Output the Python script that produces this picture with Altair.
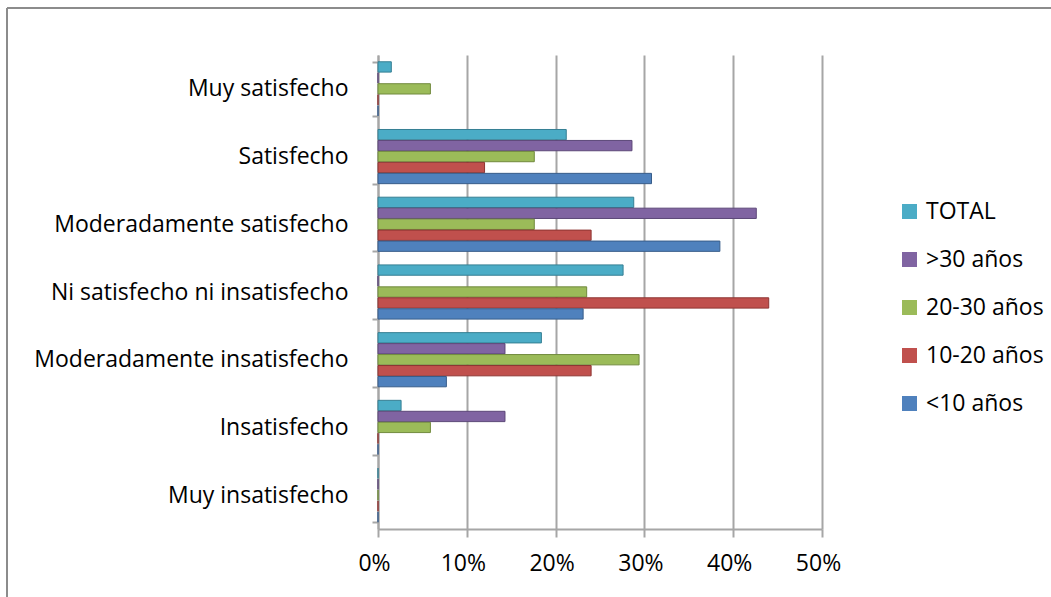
import altair as alt
import pandas as pd

categories = ["Muy satisfecho", "Satisfecho", "Moderadamente satisfecho",
              "Ni satisfecho ni insatisfecho", "Moderadamente insatisfecho",
              "Insatisfecho", "Muy insatisfecho"]
series = ["TOTAL", ">30 años", "20-30 años", "10-20 años", "<10 años"]

total = [1.5, 21.2, 28.8, 27.6, 18.4, 2.6, 0]
over30 = [0, 28.6, 42.6, 0, 14.3, 14.3, 0]
y20_30 = [5.9, 17.6, 17.6, 23.5, 29.4, 5.9, 0]
y10_20 = [0, 12.0, 24.0, 44.0, 24.0, 0, 0]
under10 = [0, 30.8, 38.5, 23.1, 7.7, 0, 0]

colors = ["#4BACC6", "#8064A2", "#9BBB59", "#C0504D", "#4F81BD"]
strokes = ["#357F93", "#5C4778", "#718A3D", "#8E3532", "#385D8A"]

rows = []
for s, vals in zip(series, [total, over30, y20_30, y10_20, under10]):
    for c, v in zip(categories, vals):
        rows.append({"cat": c, "series": s, "value": v / 100.0})
df = pd.DataFrame(rows)

FONT = "Open Sans"
FS = 23

bars = alt.Chart(df).mark_bar(strokeWidth=1).encode(
    x=alt.X("value:Q",
            scale=alt.Scale(domain=[0, 0.5], nice=False),
            axis=alt.Axis(title=None, format="%", values=[0, 0.1, 0.2, 0.3, 0.4, 0.5],
                          grid=True, gridColor="#A6A6A6", gridWidth=2,
                          domainColor="#A6A6A6", domainWidth=2,
                          tickColor="#A6A6A6", tickWidth=2, tickSize=8,
                          labelFont=FONT, labelFontSize=FS, labelColor="black",
                          labelFlush=False, labelPadding=15, labelOffset=-4)),
    y=alt.Y("cat:N", sort=categories,
            scale=alt.Scale(paddingInner=0.2, paddingOuter=0.1),
            axis=alt.Axis(title=None, tickBand="extent", grid=False,
                          domainColor="#A6A6A6", domainWidth=2,
                          tickColor="#A6A6A6", tickWidth=2, tickSize=6,
                          labelFont=FONT, labelFontSize=FS, labelColor="black",
                          labelPadding=24, labelLimit=400)),
    yOffset=alt.YOffset("series:N", sort=series, scale=alt.Scale(paddingInner=0.06)),
    fill=alt.Fill("series:N", sort=series,
                  scale=alt.Scale(domain=series, range=colors),
                  legend=alt.Legend(title=None, orient="none", legendX=520, legendY=145,
                                    symbolType="square", symbolSize=225,
                                    symbolStrokeWidth=0,
                                    labelFont=FONT, labelFontSize=FS, labelColor="black",
                                    rowPadding=24, labelOffset=5)),
    stroke=alt.Stroke("series:N", sort=series,
                      scale=alt.Scale(domain=series, range=strokes), legend=None),
)

frame = pd.DataFrame({"a": [0]})
top_line = alt.Chart(frame).mark_rule(color="#8C8C8C", strokeWidth=2).encode(
    x=alt.value(-371), x2=alt.value(700), y=alt.value(-47))
left_line = alt.Chart(frame).mark_rule(color="#8C8C8C", strokeWidth=2).encode(
    x=alt.value(-371), y=alt.value(-47), y2=alt.value(560))

chart = alt.layer(bars, top_line, left_line).properties(
    width=444, height=474,
    autosize="none",
    padding={"left": 378, "top": 55, "right": 229, "bottom": 68},
    background="white",
).configure_view(stroke=None)

chart.save("out.html", embed_options={"renderer": "svg", "actions": False})
